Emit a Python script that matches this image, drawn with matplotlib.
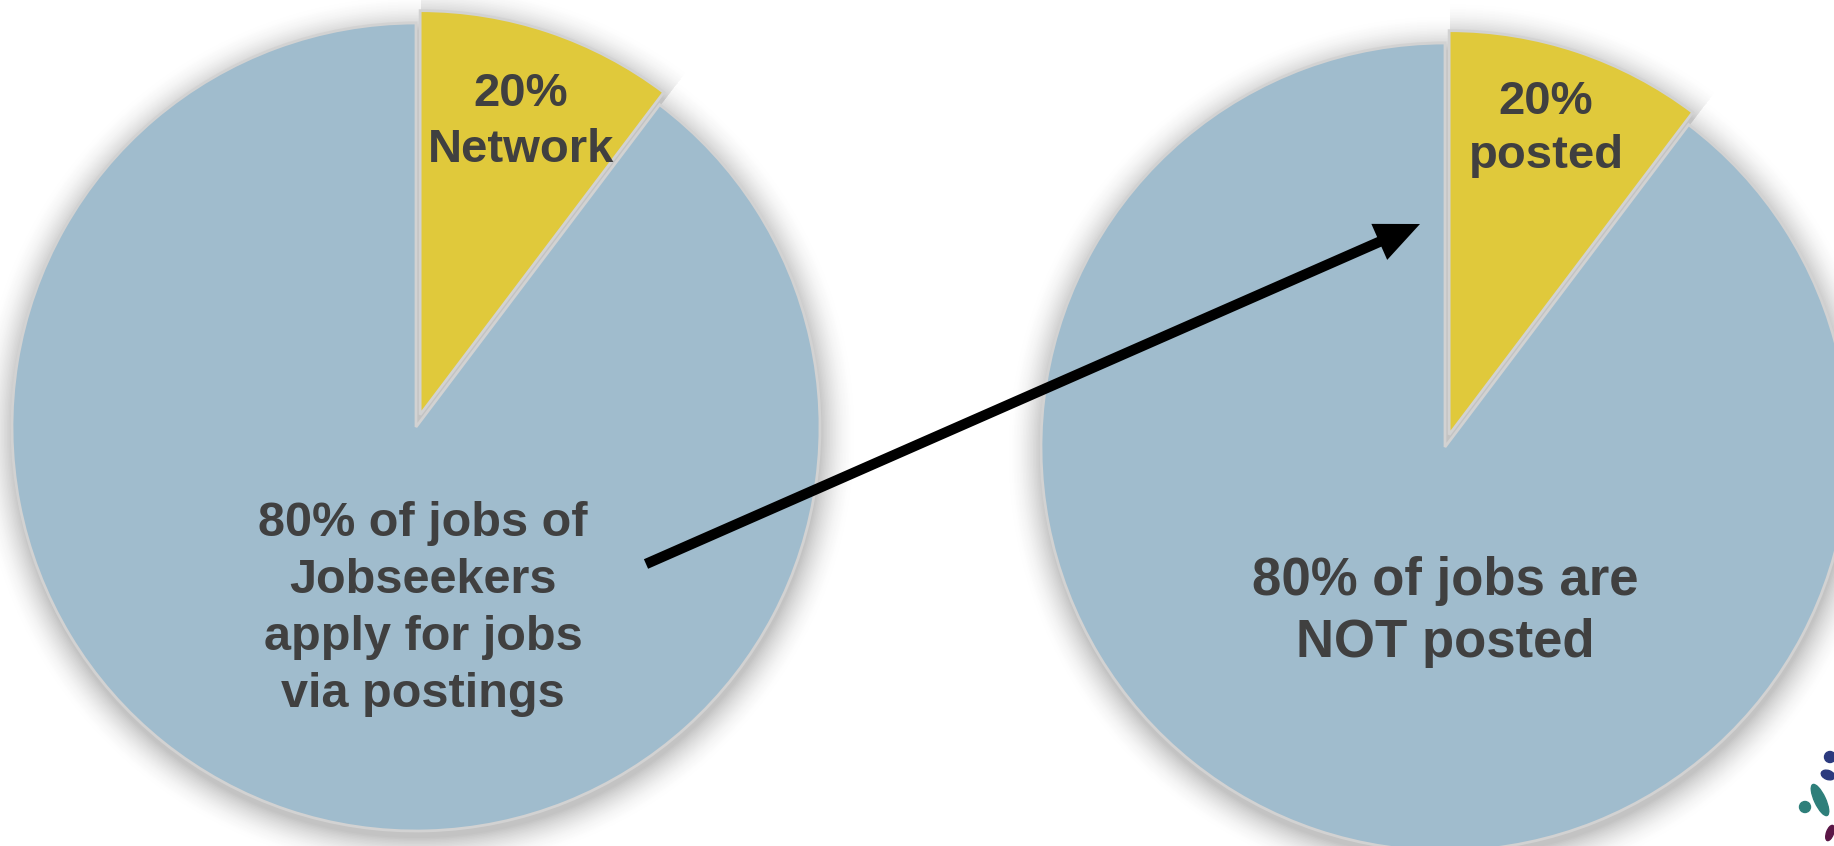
import matplotlib
matplotlib.use("Agg")
import matplotlib.pyplot as plt
import numpy as np
from matplotlib.patches import Ellipse, Circle
from matplotlib.colors import to_rgb

# ---- data ----
slice_names = ["Network / posted", "Other"]
left_sizes = [10.3, 89.7]      # wedge shares as drawn
right_sizes = [10.3, 89.7]
left_small_label = "20%\nNetwork"
left_big_label = "80% of jobs of\nJobseekers\napply for jobs\nvia postings"
right_small_label = "20%\nposted"
right_big_label = "80% of jobs are\nNOT posted"

# ---- style ----
YELLOW = "#E0C93B"
BLUE = "#A0BCCD"
EDGE = "#D2D2D2"
TXT = "#404040"
W, H = 1834, 846
FONT = ["Liberation Sans", "DejaVu Sans"]

fig = plt.figure(figsize=(W / 100, H / 100), dpi=100)
ax = fig.add_axes([0, 0, 1, 1])

R = 404
pies = [((416, H - 427), left_sizes), ((1445, H - 447), right_sizes)]
EXPL = 13.0   # data units (pixels)

gray = np.array(to_rgb("#707070"))
white = np.ones(3)
NL = 24
D = 36.0

for (cx, cy), sizes in pies:
    # soft shadow: opaque layers from outermost (lightest) to innermost
    for k in range(NL, -1, -1):
        d = D * k / NL
        a = 0.42 * (1 - d / D) ** 1.8
        col = tuple(white * (1 - a) + gray * a)
        ax.pie([1], center=(cx + 1, cy - 7), radius=R + d, startangle=90,
               colors=[col], wedgeprops=dict(edgecolor="none"))
        ax.pie(sizes, center=(cx + 1, cy - 7), radius=R + d, startangle=90,
               counterclock=False, explode=[EXPL, 0.0],
               colors=[col, "none"], wedgeprops=dict(edgecolor="none"))
    ax.pie(sizes, center=(cx, cy), radius=R, startangle=90,
           counterclock=False, explode=[EXPL, 0.0], colors=[YELLOW, BLUE],
           wedgeprops=dict(edgecolor=EDGE, linewidth=2.0))

# labels
ax.text(521, H - 122, left_small_label, ha="center", va="center",
        fontsize=34, fontweight="bold", color=TXT, family=FONT, linespacing=1.35)
ax.text(423, H - 609, left_big_label, ha="center", va="center",
        fontsize=35, fontweight="bold", color=TXT, family=FONT, linespacing=1.34)
ax.text(1546, H - 129, right_small_label, ha="center", va="center",
        fontsize=34, fontweight="bold", color=TXT, family=FONT, linespacing=1.3)
ax.text(1445, H - 612, right_big_label, ha="center", va="center",
        fontsize=38, fontweight="bold", color=TXT, family=FONT, linespacing=1.32)

# arrow
ax.annotate("", xy=(1420, H - 224), xytext=(646, H - 564),
            arrowprops=dict(arrowstyle="-|>,head_length=0.95,head_width=0.42",
                            color="black", lw=7.5, mutation_scale=20,
                            shrinkA=0, shrinkB=0, joinstyle="miter",
                            capstyle="butt"))

# small logo (decorative)
ax.add_patch(Circle((1830, H - 757), 5.5, color="#2B3A7E"))
ax.add_patch(Ellipse((1828, H - 775), 14, 9, angle=-20, color="#2B3A7E"))
ax.add_patch(Ellipse((1820, H - 800), 11, 34, angle=25, color="#2E7F7A"))
ax.add_patch(Circle((1805, H - 807), 5.5, color="#2E7F7A"))
ax.add_patch(Ellipse((1830, H - 833), 7, 16, angle=-20, color="#5A1646"))

ax.set_xlim(0, W)
ax.set_ylim(0, H)
ax.axis("off")
fig.savefig("out.png", dpi=100, facecolor="white")
